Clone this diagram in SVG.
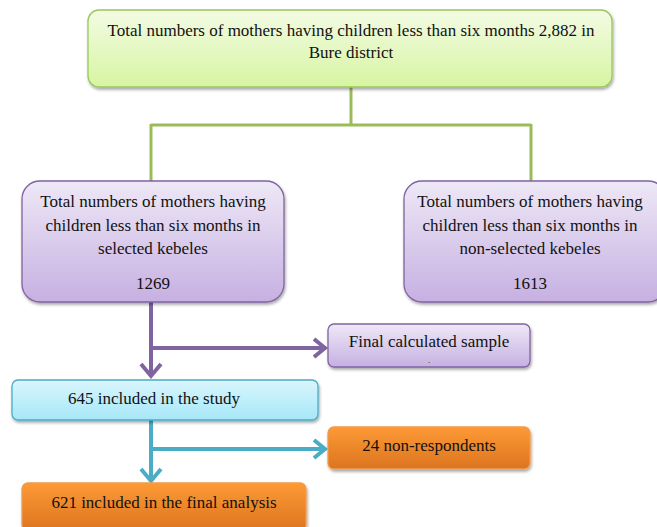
<svg xmlns="http://www.w3.org/2000/svg" width="657" height="527" viewBox="0 0 657 527">
<defs>
<linearGradient id="gGreen" x1="0" y1="0" x2="0" y2="1"><stop offset="0" stop-color="#f3fbe4"/><stop offset="1" stop-color="#d7f5a2"/></linearGradient>
<linearGradient id="gPurple" x1="0" y1="0" x2="0" y2="1"><stop offset="0" stop-color="#eee8f6"/><stop offset="1" stop-color="#c6b0e2"/></linearGradient>
<linearGradient id="gCyan" x1="0" y1="0" x2="0" y2="1"><stop offset="0" stop-color="#d9f6fd"/><stop offset="1" stop-color="#a6e7f8"/></linearGradient>
<linearGradient id="gOrange" x1="0" y1="0" x2="0" y2="1"><stop offset="0" stop-color="#fd9a35"/><stop offset="1" stop-color="#dc7420"/></linearGradient>
<filter id="sh" x="-10%" y="-10%" width="120%" height="130%"><feDropShadow dx="1" dy="2" stdDeviation="1.5" flood-color="#000" flood-opacity="0.35"/></filter>
</defs>
<style>
text{font-family:"Liberation Serif","Times New Roman",serif;font-size:17px;fill:#111;text-anchor:middle}
.dot{font-size:9px}
.green{fill:url(#gGreen);stroke:#9bc85a;stroke-width:1.3}
.purple{fill:url(#gPurple);stroke:#8064a2;stroke-width:1.3}
.cyan{fill:url(#gCyan);stroke:#4bacc6;stroke-width:1.3}
.orange{fill:url(#gOrange);stroke:#f39a4a;stroke-width:1.3}
.lg{stroke:#9bbb59;stroke-width:3;fill:none}
.lp{stroke:#8064a2;stroke-width:4;fill:none}
.lc{stroke:#4bacc6;stroke-width:4;fill:none}
</style>
<rect width="657" height="527" fill="#fff"/>
<g id="connectors">
<path class="lg" d="M351 87V125M151 125H531M151 124V183M531 124V183"/>
<path class="lp" d="M151 302V375M141 364L151 376L161 364M151 348H324M314 339L325 348L314 357"/>
<path class="lc" d="M151 420V481M141 469L151 481L161 469M151 449H324M314 440L325 449L314 458"/>
</g>
<g id="top" filter="url(#sh)"><rect class="green" x="88" y="10" width="524" height="77" rx="11"/></g>
<g id="topText"><text x="351" y="36">Total numbers of mothers having children less than six months 2,882 in</text><text x="351" y="58">Bure district</text></g>
<g id="selected"><rect class="purple" x="22" y="181" width="262" height="121" rx="18" filter="url(#sh)"/>
<text x="153" y="207">Total numbers of mothers having</text><text x="153" y="231">children less than six months in</text><text x="153" y="254">selected kebeles</text><text x="153" y="289">1269</text></g>
<g id="nonselected"><rect class="purple" x="404" y="181" width="262" height="121" rx="18" filter="url(#sh)"/>
<text x="530" y="207">Total numbers of mothers having</text><text x="530" y="231">children less than six months in</text><text x="530" y="254">non-selected kebeles</text><text x="530" y="289">1613</text></g>
<g id="sample"><rect class="purple" x="328" y="324" width="202" height="43" rx="6" filter="url(#sh)"/>
<text x="429" y="347">Final calculated sample</text><text class="dot" x="429" y="363">.</text></g>
<g id="included"><rect class="cyan" x="12" y="380" width="306" height="40" rx="6" filter="url(#sh)"/>
<text x="154" y="404">645 included in the study</text></g>
<g id="nonresp"><rect class="orange" x="328" y="427" width="202" height="42" rx="6" filter="url(#sh)"/>
<text x="429" y="451">24 non-respondents</text></g>
<g id="final"><rect class="orange" x="22" y="483" width="284" height="48" rx="6" filter="url(#sh)"/>
<text x="164" y="508">621 included in the final analysis</text></g>
</svg>
